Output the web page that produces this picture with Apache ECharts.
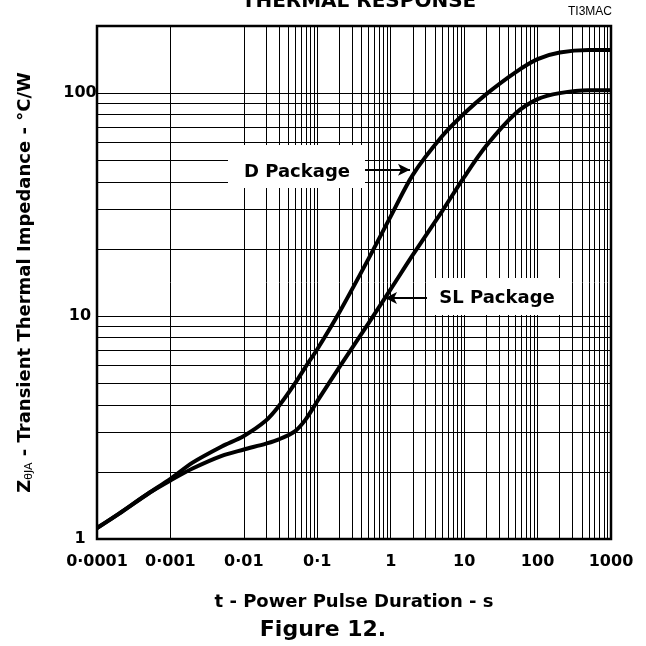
<!DOCTYPE html>
<html>
<head>
<meta charset="utf-8">
<script src="https://cdn.jsdelivr.net/npm/echarts@6/dist/echarts.min.js"></script>
<style>
  html, body { margin: 0; padding: 0; background: #fff; }
  #chart { width: 646px; height: 646px; }
</style>
</head>
<body>
<div id="chart"></div>
<script>
// pulse durations (s)
var durations = [1e-4, 2e-4, 5e-4, 1e-3, 2e-3, 5e-3, 1e-2, 2e-2, 3e-2, 5e-2, 7e-2, 0.1, 0.2, 0.5, 1, 2, 5, 10, 20, 50, 100, 200, 500, 1000];
// Z thermal, D package (C/W)
var dPackage = [1.12, 1.3, 1.6, 1.86, 2.2, 2.6, 2.9, 3.4, 3.95, 5.0, 5.95, 7.1, 10.4, 18.1, 28, 43, 64, 81, 99, 124, 142, 152, 156, 156];
// Z thermal, SL package (C/W)
var slPackage = [1.12, 1.3, 1.6, 1.83, 2.07, 2.36, 2.52, 2.68, 2.8, 3.05, 3.45, 4.15, 5.9, 9.3, 13.2, 18.8, 29.5, 42, 58, 81, 94, 100, 103, 103];

var xTickLabels = ['0·0001', '0·001', '0·01', '0·1', '1', '10', '100', '1000'];
var yTickLabels = ['1', '10', '100'];

var xMin = 1e-4, xMax = 1000;
var yMin = 1, yMax = 200;

// minor grid values 2..9 per decade
var xMinor = [];
for (var e = -4; e < 3; e++) {
	for (var k = 2; k <= 9; k++) {
		xMinor.push(k * Math.pow(10, e));
	}
}
var yMinor = [];
for (var e = 0; e < 2; e++) {
	for (var k = 2; k <= 9; k++) {
		yMinor.push(k * Math.pow(10, e));
	}
}

function pairs(xs, ys) {
	var out = [];
	for (var i = 0; i < xs.length; i++) out.push([xs[i], ys[i]]);
	return out;
}

var font = 'DejaVu Sans';
var myChart = echarts.init(document.getElementById('chart'), null, {renderer: 'canvas'});

var gridMarks = [];
for (var i = 0; i < xMinor.length; i++) gridMarks.push({xAxis: xMinor[i]});
for (var i = 0; i < yMinor.length; i++) gridMarks.push({yAxis: yMinor[i]});

var option = {
	backgroundColor: '#fff',
	animation: false,
	title: {
		text: 'THERMAL RESPONSE',
		left: 354,
		textAlign: 'center',
		top: -13,
		textStyle: {fontFamily: font, fontWeight: 'bold', fontSize: 20, color: '#000'}
	},
	grid: {
		left: 97,
		right: 35,
		top: 26,
		bottom: 107,
		show: true,
		borderColor: '#000',
		borderWidth: 2.5,
		backgroundColor: 'transparent'
	},
	xAxis: {
		type: 'log',
		logBase: 10,
		min: xMin,
		max: xMax,
		name: 't - Power Pulse Duration - s',
		nameLocation: 'middle',
		nameGap: 54,
		nameTextStyle: {fontFamily: font, fontWeight: 'bold', fontSize: 18, color: '#000'},
		axisLine: {show: false},
		axisTick: {show: false},
		splitLine: {show: true, lineStyle: {color: '#000', width: 1}},
		axisLabel: {
			margin: 15,
			fontFamily: font,
			fontWeight: 'bold',
			fontSize: 16,
			color: '#000',
			formatter: function(v) {
				var idx = Math.round(Math.log10(v)) + 4;
				return xTickLabels[idx] || '';
			}
		}
	},
	yAxis: {
		type: 'log',
		logBase: 10,
		min: yMin,
		max: yMax,
		name: '{m|Z}{s|θJA}{m| - Transient Thermal Impedance - °C/W}',
		nameLocation: 'middle',
		nameRotate: 90,
		nameGap: 62,
		nameTextStyle: {
			rich: {
				m: {fontFamily: font, fontWeight: 'bold', fontSize: 18, color: '#000'},
				s: {fontFamily: font, fontWeight: 'normal', fontSize: 11, color: '#000', padding: [9, 0, 0, 0]}
			}
		},
		axisLine: {show: false},
		axisTick: {show: false},
		splitLine: {show: true, lineStyle: {color: '#000', width: 1}},
		axisLabel: {
			margin: 17,
			align: 'center',
			fontFamily: font,
			fontWeight: 'bold',
			fontSize: 16,
			color: '#000',
			formatter: function(v) {
				var idx = Math.round(Math.log10(v));
				if (Math.abs(Math.log10(v) - idx) > 1e-6) return '';
				return yTickLabels[idx] || '';
			}
		}
	},
	graphic: [
		{
			type: 'text',
			right: 34,
			top: 6,
			style: {text: 'TI3MAC', fontFamily: 'Liberation Sans', fontSize: 12, fill: '#000'}
		},
		{
			type: 'text',
			left: 'center',
			top: 619,
			style: {text: 'Figure 12.', fontFamily: font, fontWeight: 'bold', fontSize: 22, fill: '#000'}
		},
		{
			type: 'rect',
			shape: {x: 228, y: 145, width: 137, height: 43},
			style: {fill: '#fff'},
			z: 50
		},
		{
			type: 'text',
			x: 297,
			y: 172,
			style: {text: 'D Package', fontFamily: font, fontWeight: 'bold', fontSize: 18, fill: '#000', align: 'center', verticalAlign: 'middle'},
			z: 51
		},
		{
			type: 'rect',
			shape: {x: 427, y: 278, width: 141, height: 37},
			style: {fill: '#fff'},
			z: 50
		},
		{
			type: 'text',
			x: 497,
			y: 298,
			style: {text: 'SL Package', fontFamily: font, fontWeight: 'bold', fontSize: 18, fill: '#000', align: 'center', verticalAlign: 'middle'},
			z: 51
		}
	],
	series: [
		{
			name: 'grid',
			type: 'line',
			data: [],
			silent: true,
			z: 1,
			markLine: {
				silent: true,
				symbol: 'none',
				label: {show: false},
				lineStyle: {color: '#000', width: 1, type: 'solid'},
				data: gridMarks
			}
		},
		{
			name: 'D Package',
			type: 'line',
			data: pairs(durations, dPackage),
			smooth: 0.3,
			showSymbol: false,
			lineStyle: {color: '#000', width: 4},
			z: 5,
			markLine: {
				silent: true,
				symbol: ['none', 'arrow'],
				symbolSize: [9, 12],
				label: {show: false},
				lineStyle: {color: '#000', width: 2, type: 'solid'},
				data: [[{coord: [0.447, 45.3]}, {coord: [1.83, 45.3]}]]
			}
		},
		{
			name: 'SL Package',
			type: 'line',
			data: pairs(durations, slPackage),
			smooth: 0.3,
			showSymbol: false,
			lineStyle: {color: '#000', width: 4},
			z: 5,
			markLine: {
				silent: true,
				symbol: ['none', 'arrow'],
				symbolSize: [9, 12],
				label: {show: false},
				lineStyle: {color: '#000', width: 2, type: 'solid'},
				data: [[{coord: [3.12, 12.05]}, {coord: [0.836, 12.05]}]]
			}
		}
	]
};

myChart.setOption(option);
</script>
</body>
</html>
